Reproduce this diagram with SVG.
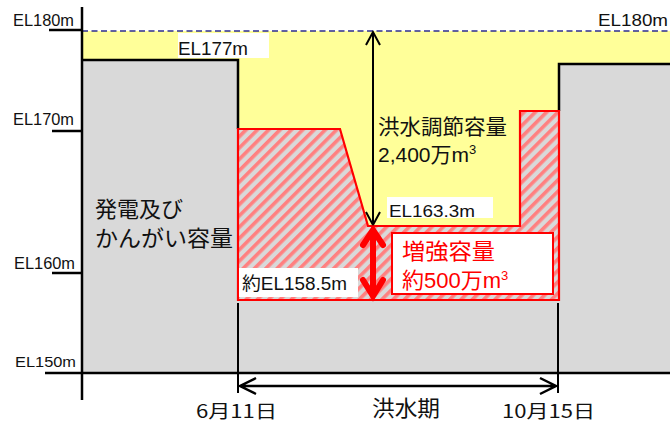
<svg xmlns="http://www.w3.org/2000/svg" width="670" height="423" viewBox="0 0 670 423">
<style>
.lbl{font-family:"Liberation Sans","Noto Sans CJK JP",sans-serif;fill:#111}
.jp{font-family:"Noto Sans CJK JP","Liberation Sans",sans-serif;fill:#111}
.ax{stroke:#000;stroke-width:2.5;fill:none}
.wbox{fill:#fff}
</style>
<defs>
<pattern id="hatch" width="8" height="8" patternUnits="userSpaceOnUse" patternTransform="rotate(45)">
<rect width="8" height="8" fill="#d9d9d9"/>
<rect width="3.6" height="8" fill="#ff8080"/>
</pattern>
</defs>
<rect width="670" height="423" fill="#fff"/>
<g id="flood-zone">
<rect x="82" y="31" width="588" height="342" fill="#ffff99"/>
</g>
<g id="base-storage">
<path d="M82,60 H238 V129 H340 L368,226 H520 V111 H559 V64 H670 V373 H82 Z" fill="#d9d9d9"/>
<path d="M82,60 H238 V129 M559,111 V64 H670" fill="none" stroke="#000" stroke-width="2.5"/>
</g>
<g id="enhanced">
<path d="M238,129 H340 L368,226 H520 V111 H559 V300 H238 Z" fill="url(#hatch)" stroke="#ff0000" stroke-width="2.2"/>
</g>
<g id="connectors">
<line x1="82" y1="31" x2="670" y2="31" stroke="#2e2e90" stroke-width="1.6" stroke-dasharray="6,3.5"/>
<path class="ax" d="M82,7 V400 M45,373 H670 M49,30 H82 M52,131 H82 M52,273 H82"/>
<path d="M238,303 V393 M558,303 V393" stroke="#000" stroke-width="2" fill="none"/>
<path d="M240,386 H556 M256,378 L240,386 L256,394 M540,378 L556,386 L540,394" stroke="#000" stroke-width="2.5" fill="none"/>
<path d="M373,33 V224 M366,45 L373,32 L380,45 M366,212 L373,225 L380,212" stroke="#000" stroke-width="2" fill="none"/>
<path d="M373,232 V294 M363,245 L373,230 L383,245 M363,280 L373,296 L383,280" stroke="#ff0000" stroke-width="6" fill="none" stroke-linecap="round"/>
</g>
<g id="labels">
<text class="lbl" x="13" y="26" font-size="16" textLength="61" lengthAdjust="spacingAndGlyphs">EL180m</text>
<text class="lbl" x="598" y="26" font-size="17" textLength="70" lengthAdjust="spacingAndGlyphs">EL180m</text>
<text class="lbl" x="13" y="125" font-size="16" textLength="61" lengthAdjust="spacingAndGlyphs">EL170m</text>
<text class="lbl" x="14" y="269" font-size="16" textLength="61" lengthAdjust="spacingAndGlyphs">EL160m</text>
<text class="lbl" x="15" y="367" font-size="15" textLength="61" lengthAdjust="spacingAndGlyphs">EL150m</text>
<rect class="wbox" x="178" y="33" width="91" height="25"/>
<text class="lbl" x="178" y="55" font-size="18" textLength="70" lengthAdjust="spacingAndGlyphs">EL177m</text>
<text class="jp" x="378" y="134" font-size="21" textLength="129" lengthAdjust="spacingAndGlyphs">洪水調節容量</text>
<text class="lbl" x="378" y="162" font-size="21">2,400<tspan class="jp">万</tspan>m<tspan font-size="13" dy="-8">3</tspan></text>
<rect class="wbox" x="387" y="197" width="106" height="21"/>
<text class="lbl" x="389" y="217" font-size="17" textLength="86" lengthAdjust="spacingAndGlyphs">EL163.3m</text>
<rect class="wbox" x="239" y="268" width="119" height="29"/>
<text class="lbl" x="242" y="290" font-size="18" textLength="105" lengthAdjust="spacingAndGlyphs"><tspan class="jp">約</tspan>EL158.5m</text>
<rect x="392" y="233" width="161" height="61" fill="#fff" stroke="#ff0000" stroke-width="2"/>
<text class="jp" x="402" y="259" font-size="22" textLength="93" lengthAdjust="spacingAndGlyphs" style="fill:#ff0000">増強容量</text>
<text class="lbl" x="402" y="288" font-size="22" style="fill:#ff0000"><tspan class="jp" style="fill:#ff0000">約</tspan>500<tspan class="jp" style="fill:#ff0000">万</tspan>m<tspan font-size="13" dy="-8">3</tspan></text>
<text class="jp" x="95" y="217" font-size="22" textLength="88" lengthAdjust="spacingAndGlyphs">発電及び</text>
<text class="jp" x="95" y="246" font-size="22" textLength="138" lengthAdjust="spacingAndGlyphs">かんがい容量</text>
<text class="jp" x="196" y="418" font-size="18" textLength="81" lengthAdjust="spacingAndGlyphs">6月11日</text>
<text class="jp" x="372" y="416" font-size="22" textLength="68" lengthAdjust="spacingAndGlyphs">洪水期</text>
<text class="jp" x="502" y="418" font-size="18" textLength="93" lengthAdjust="spacingAndGlyphs">10月15日</text>
</g>
</svg>
